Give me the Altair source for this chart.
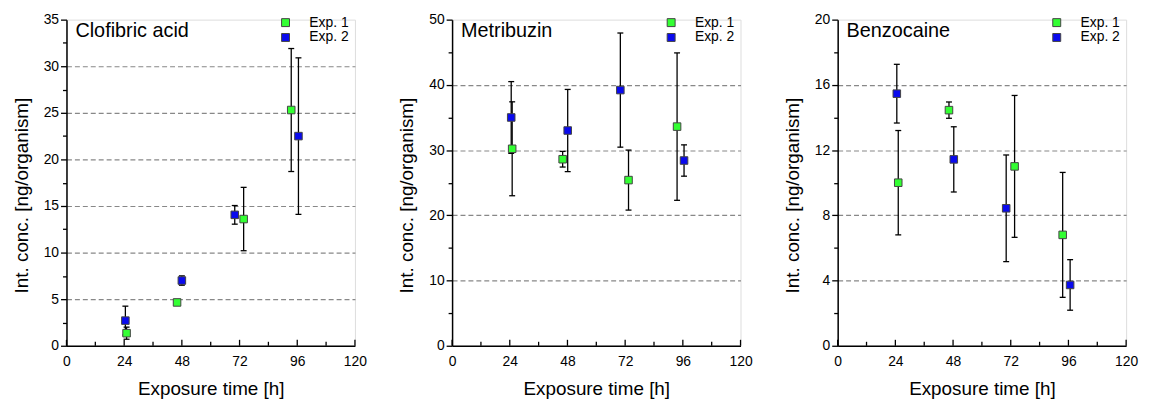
import altair as alt
import pandas as pd

FONT = "Liberation Sans"

compounds = ["Clofibric acid", "Metribuzin", "Benzocaine"]
y_max = [35, 50, 20]
y_major = [5, 10, 4]
y_minor = [2.5, 5, 2]
x_labels = [0, 24, 48, 72, 96, 120]
x_minor = [12, 36, 60, 84, 108]
series = ["Exp. 1", "Exp. 2"]
colors = ["#33ff33", "#0a0aee"]

# Clofibric acid
clo_e1_x = [25, 46, 73.7, 93.5]
clo_e1_y = [1.35, 4.65, 13.6, 25.3]
clo_e1_err = [0.65, 0.3, 3.4, 6.6]
clo_e2_x = [24.5, 48, 70, 96.5]
clo_e2_y = [2.7, 7.0, 14.05, 22.5]
clo_e2_err = [1.55, 0.5, 1.0, 8.4]

# Metribuzin
met_e1_x = [25, 46, 73.4, 93.6]
met_e1_y = [30.2, 28.6, 25.4, 33.6]
met_e1_err = [7.2, 1.2, 4.6, 11.3]
met_e2_x = [24.6, 48.1, 70, 96.5]
met_e2_y = [35.0, 33.0, 39.2, 28.4]
met_e2_err = [5.5, 6.3, 8.75, 2.4]

# Benzocaine
ben_e1_x = [25.2, 46.3, 73.6, 93.6]
ben_e1_y = [10.0, 14.45, 11.0, 6.8]
ben_e1_err = [3.2, 0.5, 4.35, 3.83]
ben_e2_x = [24.6, 48.3, 70.1, 96.7]
ben_e2_y = [15.46, 11.43, 8.43, 3.73]
ben_e2_err = [1.8, 2.0, 3.27, 1.55]

panels = [
    [(clo_e1_x, clo_e1_y, clo_e1_err), (clo_e2_x, clo_e2_y, clo_e2_err)],
    [(met_e1_x, met_e1_y, met_e1_err), (met_e2_x, met_e2_y, met_e2_err)],
    [(ben_e1_x, ben_e1_y, ben_e1_err), (ben_e2_x, ben_e2_y, ben_e2_err)],
]

W, H = 291, 329


def make_panel(i):
    rows = []
    for s, (xs, ys, es) in zip(series, panels[i]):
        for x, y, e in zip(xs, ys, es):
            rows.append({"x": x, "y": y, "lo": y - e, "hi": y + e, "exp": s})
    df = pd.DataFrame(rows)

    ymax, maj, mnr = y_max[i], y_major[i], y_minor[i]
    n = int(round(ymax / mnr))
    yvals = [round(k * mnr, 3) for k in range(n + 1)]

    xscale = alt.Scale(domain=[0, 120], nice=False, zero=False)
    yscale = alt.Scale(domain=[0, ymax], nice=False)

    xaxis = alt.Axis(
        values=x_labels, ticks=False, grid=False,
        domainColor="black", domainWidth=1.5,
        labelFont=FONT, labelFontSize=14, labelColor="black", labelPadding=9,
        labelOverlap=False, labelFlush=False,
        title="Exposure time [h]", titleFont=FONT, titleFontSize=19,
        titleFontWeight="normal", titleColor="black", titlePadding=11,
    )
    ytest = f"datum.value % {maj} === 0"
    yaxis = alt.Axis(
        values=yvals,
        labelExpr=f"{ytest} ? datum.label : ''",
        labelOverlap=False, labelFlush=False,
        format="d",
        tickColor="black", tickWidth=1.3,
        tickSize={"condition": {"test": ytest, "value": 6}, "value": 4},
        domainColor="black", domainWidth=1.5,
        labelFont=FONT, labelFontSize=14, labelColor="black", labelPadding=2,
        grid=True, gridColor="#888888", gridDash=[5, 3], gridWidth=1.2,
        gridOpacity={"condition": {"test": f"{ytest} && datum.value > 0 && datum.value < {ymax}", "value": 1}, "value": 0},
        title="Int. conc. [ng/organism]", titleFont=FONT, titleFontSize=19,
        titleFontWeight="normal", titleColor="black", titlePadding=12,
        titleY=177,
    )

    base = alt.Chart(df)
    X = alt.X("x:Q", scale=xscale, axis=xaxis)

    err = base.mark_rule(color="black", strokeWidth=1.3).encode(
        x=X, y=alt.Y("lo:Q", scale=yscale, axis=yaxis), y2="hi:Q"
    )
    cap_lo = base.mark_tick(orient="horizontal", size=6, thickness=1.3, color="black", opacity=1).encode(
        x=X, y=alt.Y("lo:Q", scale=yscale, axis=yaxis)
    )
    cap_hi = base.mark_tick(orient="horizontal", size=6, thickness=1.3, color="black", opacity=1).encode(
        x=X, y=alt.Y("hi:Q", scale=yscale, axis=yaxis)
    )
    pts = base.mark_square(size=58, opacity=1, stroke="#444444", strokeWidth=1).encode(
        x=X,
        y=alt.Y("y:Q", scale=yscale, axis=yaxis),
        color=alt.Color(
            "exp:N",
            scale=alt.Scale(domain=series, range=colors),
            legend=alt.Legend(
                title=None, orient="none", legendX=214, legendY=-4,
                padding=0, rowPadding=1, labelOffset=17,
                labelFont=FONT, labelFontSize=14, labelColor="black",
                symbolType="square", symbolSize=64,
                symbolStrokeColor="#444444", symbolStrokeWidth=1,
                symbolOpacity=1,
            ),
        ),
    )

    tick_major = alt.Chart(pd.DataFrame({"t": x_labels})).mark_rule(color="black", strokeWidth=1.3).encode(
        x=alt.X("t:Q", scale=xscale, axis=xaxis), y=alt.value(H), y2=alt.value(H - 6)
    )
    tick_minor = alt.Chart(pd.DataFrame({"t": x_minor})).mark_rule(color="black", strokeWidth=1.3).encode(
        x=alt.X("t:Q", scale=xscale, axis=xaxis), y=alt.value(H), y2=alt.value(H - 4)
    )

    name = alt.Chart(pd.DataFrame({"name": [compounds[i]]})).mark_text(
        align="left", baseline="alphabetic", font=FONT, fontSize=20, color="black"
    ).encode(text="name:N", x=alt.value(9), y=alt.value(18))

    return alt.layer(err, cap_lo, cap_hi, tick_major, tick_minor, pts, name).properties(width=W, height=H)


chart = (
    alt.hconcat(make_panel(0), make_panel(1), make_panel(2), spacing=98, bounds="flush")
    .resolve_scale(color="independent")
    .resolve_legend(color="independent")
    .configure_view(stroke=None)
    .configure_legend(labelFontSize=14, labelFont=FONT, labelOffset=17, labelColor="black")
    .configure(font=FONT)
    .properties(padding={"left": 3, "top": 2, "right": 2, "bottom": 2}, background="white")
)

chart.save("out.html", embed_options={"renderer": "svg", "actions": False})
